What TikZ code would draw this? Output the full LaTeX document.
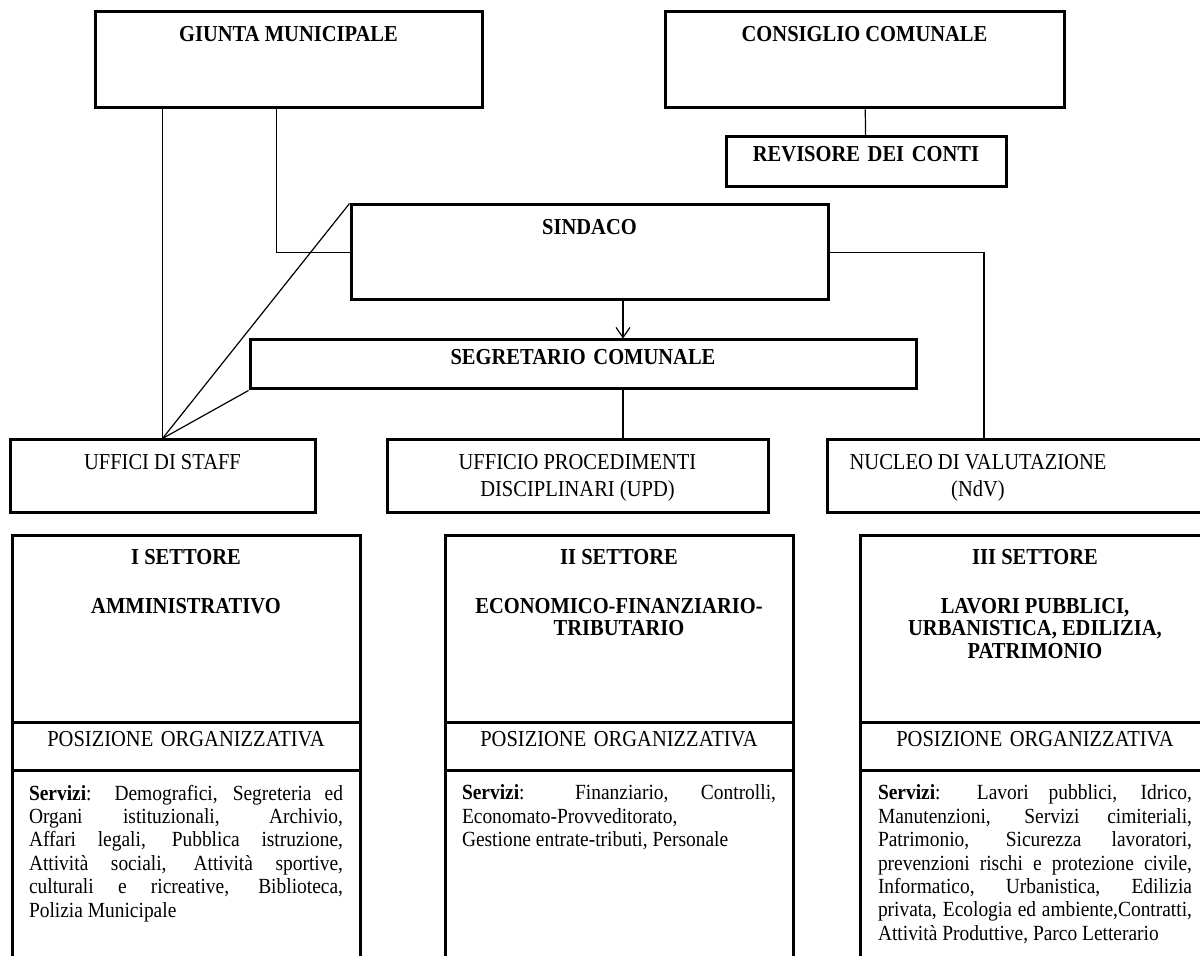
\documentclass[tikz,border=0pt]{standalone}
\usepackage{fontspec}
\setmainfont{Liberation Serif}[FakeStretch=0.9]
\usetikzlibrary{positioning,fit,arrows.meta}
\tolerance=9999
\emergencystretch=10pt

\tikzset{
  box/.style={draw, line width=1.5pt, inner sep=0pt},
  link/.style={draw, line width=0.6pt},
  head/.style={inner sep=0pt, align=center, font=\fontsize{11.4}{11.25}\selectfont\bfseries},
  lbl/.style={inner sep=0pt, align=center, font=\fontsize{11.4}{13.5}\selectfont},
  serv/.style={inner sep=0pt, text width=157pt, align=justify, font=\fontsize{10.8}{11.7}\selectfont}
}

\begin{document}
\begin{tikzpicture}[x=0.5pt,y=-0.5pt]
\useasboundingbox (0,0) rectangle (1200,956);

% organi
\node[box, fit={(95,12) (482,108)}] (giunta) {};
\node[head, below=8pt of giunta.north] (giuntaT) {GIUNTA MUNICIPALE};
\node[box, fit={(665,12) (1064,108)}] (consiglio) {};
\node[head, below=8pt of consiglio.north] (consiglioT) {CONSIGLIO COMUNALE};
\node[box, fit={(726,137) (1006,187)}, head] (revisore) {REVISORE DEI CONTI};
\node[box, fit={(351,205) (828,300)}] (sindaco) {};
\node[head, below=8pt of sindaco.north] (sindacoT) {SINDACO};
\node[box, fit={(250,340) (916,389)}, head] (segretario) {SEGRETARIO COMUNALE};

% uffici
\node[box, fit={(10,440) (315,513)}] (staff) {};
\node[lbl, below=8pt of staff.north] (staffT) {UFFICI DI STAFF};
\node[box, fit={(387,440) (768,513)}] (upd) {};
\node[lbl, below=8pt of upd.north] (updT) {UFFICIO PROCEDIMENTI\\DISCIPLINARI (UPD)};
\node[box, fit={(827,440) (1215,513)}] (ndv) {};
\node[lbl, below=8pt of ndv.north, xshift=-21.5pt] (ndvT) {NUCLEO DI VALUTAZIONE\\(NdV)};

% settori
\node[box, fit={(12,536) (360,723)}] (set1) {};
\node[head, below=7.5pt of set1.north] (set1T) {I SETTORE\\[13pt]AMMINISTRATIVO};
\node[box, fit={(12,723) (360,771)}, lbl] (po1) {POSIZIONE ORGANIZZATIVA};
\node[box, fit={(12,771) (360,975)}] (serv1) {};
\node[serv, below=7.5pt of serv1.north] (serv1T) {\textbf{Servizi}: Demografici, Segreteria ed\linebreak
  Organi istituzionali, Archivio,\linebreak
  Affari legali, Pubblica istruzione,\linebreak
  Attività sociali, Attività sportive,\linebreak
  culturali e ricreative, Biblioteca,\linebreak
  Polizia Municipale};

\node[box, fit={(445,536) (793,723)}] (set2) {};
\node[head, below=7.5pt of set2.north] (set2T) {II SETTORE\\[13pt]ECONOMICO-FINANZIARIO-\\TRIBUTARIO};
\node[box, fit={(445,723) (793,771)}, lbl] (po2) {POSIZIONE ORGANIZZATIVA};
\node[box, fit={(445,771) (793,975)}] (serv2) {};
\node[serv, below=7.5pt of serv2.north] (serv2T) {\textbf{Servizi}: Finanziario, Controlli,\linebreak
  Economato-Provveditorato,\\
  Gestione entrate-tributi, Personale};

\node[box, fit={(860,536) (1210,723)}] (set3) {};
\node[head, below=7.5pt of set3.north] (set3T) {III SETTORE\\[13pt]LAVORI PUBBLICI,\\URBANISTICA, EDILIZIA,\\PATRIMONIO};
\node[box, fit={(860,723) (1210,771)}, lbl] (po3) {POSIZIONE ORGANIZZATIVA};
\node[box, fit={(860,771) (1210,975)}] (serv3) {};
\node[serv, below=7.5pt of serv3.north] (serv3T) {\textbf{Servizi}: Lavori pubblici, Idrico,\linebreak
  Manutenzioni, Servizi cimiteriali,\linebreak
  Patrimonio, Sicurezza lavoratori,\linebreak
  prevenzioni rischi e protezione civile,\linebreak
  Informatico, Urbanistica, Edilizia\linebreak
  privata, Ecologia ed ambiente,Contratti,\linebreak
  Attività Produttive, Parco Letterario};

% collegamenti
\coordinate (axis) at (623,0);
\coordinate (nucleo) at (984,0);
\draw[link] (consiglio) -- (revisore);
\draw[link] (giunta.south -| staff.north) -- (staff.north);
\draw[link] ([xshift=-6pt]giunta.south) |- (sindaco.west);
\draw[link] (sindaco.north west) -- (staff.north);
\draw[link] (segretario.south west) -- (staff.north);
\draw[link, -{Straight Barb[length=5pt,width=7pt]}] (sindaco.south -| axis) -- (segretario.north -| axis);
\draw[link] (segretario.south -| axis) -- (upd.north -| axis);
\draw[link] (sindaco.east) -| (ndv.north -| nucleo);

\end{tikzpicture}
\end{document}
